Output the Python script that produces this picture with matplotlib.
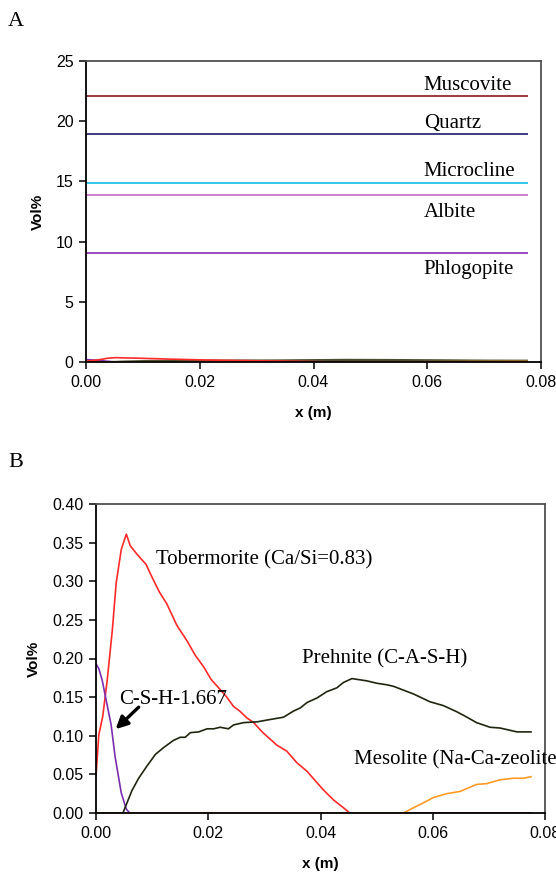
import matplotlib.pyplot as plt
import numpy as np

plt.rcParams['font.family'] = 'Liberation Sans'

# ---- panel A: primary minerals (constant Vol%) ----
x_const = [0.0, 0.0775]
mineral_names = ['Muscovite', 'Quartz', 'Microcline', 'Albite', 'Phlogopite']
mineral_vol = [22.1, 18.9, 14.9, 13.9, 9.05]
mineral_colors = ['#9b3b3b', '#3c3c80', '#33c8e8', '#cc80cc', '#9a4abf']
label_y = [23.0, 19.85, 15.8, 12.4, 7.7]

# ---- panel B: secondary minerals ----
tob_x = [0.0, 0.0005, 0.0012, 0.0020, 0.0029, 0.0036, 0.0045, 0.0054, 0.0061, 0.0073,
         0.0089, 0.0100, 0.0113, 0.0126, 0.0144, 0.0162, 0.0177, 0.0192, 0.0205, 0.0221,
         0.0233, 0.0245, 0.0256, 0.0269, 0.0281, 0.0296, 0.0305, 0.0322, 0.0340, 0.0358,
         0.0376, 0.0388, 0.0405, 0.0423, 0.0444, 0.0452, 0.0775]
tob_v = [0.048, 0.101, 0.125, 0.172, 0.236, 0.298, 0.341, 0.361, 0.346, 0.335,
         0.322, 0.305, 0.286, 0.271, 0.243, 0.223, 0.204, 0.189, 0.173, 0.160,
         0.150, 0.138, 0.132, 0.123, 0.117, 0.105, 0.099, 0.088, 0.080, 0.065,
         0.054, 0.044, 0.030, 0.017, 0.005, 0.0, 0.0]

csh_x = [0.0, 0.0005, 0.0011, 0.0017, 0.0027, 0.0034, 0.0045, 0.0054, 0.0060, 0.0775]
csh_v = [0.193, 0.187, 0.172, 0.150, 0.114, 0.073, 0.026, 0.005, 0.0, 0.0]

pre_x = [0.0, 0.0048, 0.0064, 0.0076, 0.0091, 0.0106, 0.0121, 0.0138, 0.0150, 0.0159,
         0.0168, 0.0183, 0.0198, 0.0210, 0.0221, 0.0236, 0.0245, 0.0263, 0.0287, 0.0310,
         0.0334, 0.0352, 0.0364, 0.0376, 0.0394, 0.0411, 0.0429, 0.0441, 0.0456, 0.0465,
         0.0483, 0.0500, 0.0518, 0.0530, 0.0548, 0.0566, 0.0595, 0.0619, 0.0643, 0.0661,
         0.0678, 0.0702, 0.0720, 0.0750, 0.0775]
pre_v = [0.0, 0.0, 0.029, 0.045, 0.061, 0.076, 0.085, 0.094, 0.098, 0.098,
         0.104, 0.105, 0.109, 0.109, 0.111, 0.109, 0.114, 0.117, 0.118, 0.121,
         0.124, 0.132, 0.136, 0.143, 0.149, 0.157, 0.162, 0.169, 0.174, 0.173,
         0.171, 0.168, 0.166, 0.164, 0.159, 0.154, 0.144, 0.139, 0.131, 0.124,
         0.117, 0.111, 0.110, 0.105, 0.105]

mes_x = [0.0, 0.0548, 0.0566, 0.0583, 0.0601, 0.0625, 0.0649, 0.0678, 0.0696, 0.0720,
         0.0744, 0.0762, 0.0775]
mes_v = [0.0, 0.0, 0.007, 0.013, 0.020, 0.025, 0.028, 0.037, 0.038, 0.043,
         0.045, 0.045, 0.047]

red = '#ff2a2a'
purple = '#7a2fb0'
olive = '#1f2610'
orange = '#ff9a26'

serif = 'Liberation Serif'

fig = plt.figure(figsize=(5.56, 8.8), dpi=100)
fig.patch.set_facecolor('white')

axA = fig.add_axes([86 / 556, 1 - 362 / 880, 455 / 556, 301 / 880])
axB = fig.add_axes([96 / 556, 1 - 813 / 880, 449 / 556, 309 / 880])


def style_axes(ax):
    ax.spines['left'].set_color('black')
    ax.spines['bottom'].set_color('black')
    ax.spines['top'].set_color('#505050')
    ax.spines['right'].set_color('#505050')
    for s in ax.spines.values():
        s.set_linewidth(1.3)
    ax.tick_params(direction='out', length=5, width=1.1, labelsize=11.5, pad=4)
    ax.set_xlim(0, 0.08)
    ax.set_xticks(np.arange(0, 0.081, 0.02))
    ax.set_xticklabels(['%.2f' % t for t in np.arange(0, 0.081, 0.02)])
    ax.set_xlabel('x (m)', fontsize=11, fontweight='bold', labelpad=12)
    ax.set_ylabel('Vol%', fontsize=11, fontweight='bold', labelpad=8)


# Panel A
for name, v, c, ly in zip(mineral_names, mineral_vol, mineral_colors, label_y):
    axA.plot(x_const, [v, v], color=c, linewidth=1.4)
    axA.text(0.0594, ly, name, family=serif, fontsize=15, va='center', ha='left')
axA.plot(pre_x, pre_v, color='#4a5030', linewidth=1.6)
axA.plot(csh_x, csh_v, color=purple, linewidth=1.2)
axA.plot(mes_x, mes_v, color=orange, linewidth=1.2)
axA.plot(tob_x, tob_v, color=red, linewidth=1.2)
axA.set_ylim(0, 25)
axA.set_yticks(np.arange(0, 26, 5))
style_axes(axA)

# Panel B
axB.plot(tob_x, tob_v, color=red, linewidth=1.2)
axB.plot(csh_x, csh_v, color=purple, linewidth=1.2)
axB.plot(pre_x, pre_v, color=olive, linewidth=1.2)
axB.plot(mes_x, mes_v, color=orange, linewidth=1.2)
axB.set_ylim(0, 0.40)
axB.set_yticks(np.arange(0, 0.401, 0.05))
axB.set_yticklabels(['%.2f' % t for t in np.arange(0, 0.401, 0.05)])
style_axes(axB)

axB.text(0.0107, 0.3275, 'Tobermorite (Ca/Si=0.83)', family=serif, fontsize=15, va='center')
axB.text(0.0367, 0.199, 'Prehnite (C-A-S-H)', family=serif, fontsize=15, va='center')
axB.text(0.0042, 0.1472, 'C-S-H-1.667', family=serif, fontsize=15, va='center')
axB.text(0.0460, 0.0686, 'Mesolite (Na-Ca-zeolite)', family=serif, fontsize=15,
         va='center', clip_on=False)
axB.annotate('', xy=(0.0035, 0.1085), xytext=(0.0076, 0.1370),
             arrowprops=dict(arrowstyle='-|>', color='black', lw=2.4,
                             mutation_scale=18, shrinkA=0, shrinkB=0))

fig.text(8 / 556, 1 - 22 / 880, 'A', family=serif, fontsize=16, va='center', ha='left')
fig.text(8 / 556, 1 - 462 / 880, 'B', family=serif, fontsize=16, va='center', ha='left')

fig.savefig('out.png', dpi=100)
